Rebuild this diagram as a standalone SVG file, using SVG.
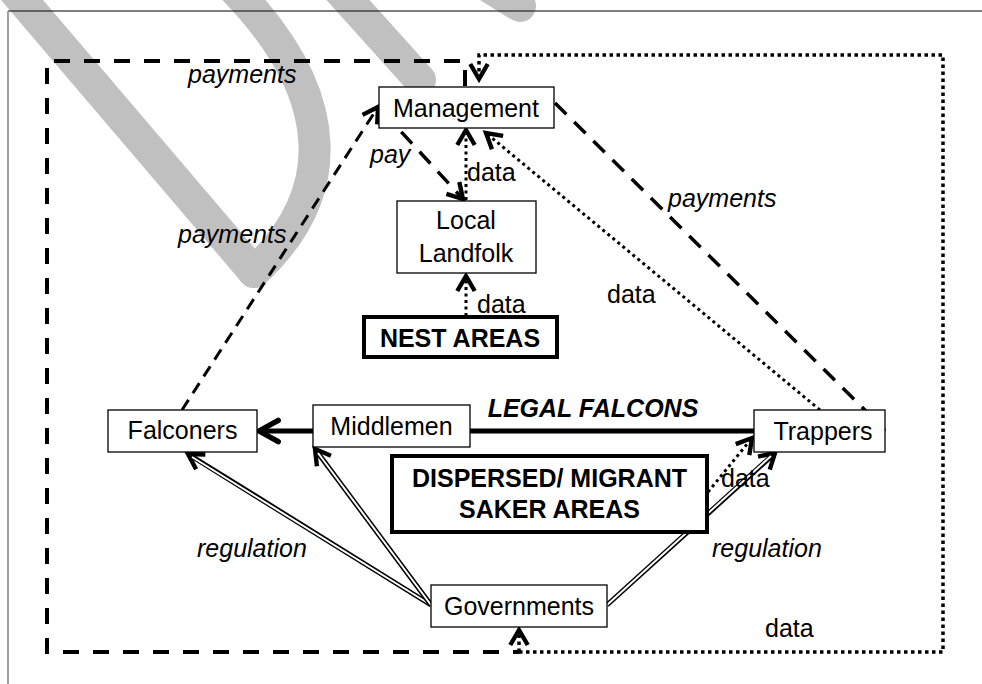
<svg xmlns="http://www.w3.org/2000/svg" width="982" height="684" viewBox="0 0 982 684">
<style>
text{font-family:"Liberation Sans",Arial,sans-serif;font-size:25px;fill:#000}
.it{font-style:italic}
.b{font-weight:bold}
.box{fill:#fff;stroke:#000;stroke-width:1.3}
.tbox{fill:#fff;stroke:#000;stroke-width:4}
.wm{fill:none;stroke:#c0c0c0;stroke-width:32;stroke-linecap:round}
.dash{fill:none;stroke:#000;stroke-width:4;stroke-dasharray:16 14}
.dash2{fill:none;stroke:#000;stroke-width:3.5;stroke-dasharray:16 11}
.dash3{fill:none;stroke:#000;stroke-width:3;stroke-dasharray:12 8}
.dot{fill:none;stroke:#000;stroke-width:3.5;stroke-dasharray:3.5 3.5}
.dot2{fill:none;stroke:#000;stroke-width:3;stroke-dasharray:3 3.5}
.dbl{fill:none;stroke:#000;stroke-width:5}
.dblw{fill:none;stroke:#fff;stroke-width:2}
</style>
<defs>
<marker id="ah" markerUnits="userSpaceOnUse" markerWidth="30" markerHeight="30" viewBox="-16 -12 20 24" refX="0" refY="0" orient="auto">
<path d="M-12,-7 L0,0 L-12,7" fill="none" stroke="#000" stroke-width="3.5" stroke-linejoin="miter"/>
</marker>
<marker id="ahL" markerUnits="userSpaceOnUse" markerWidth="30" markerHeight="30" viewBox="-22 -14 26 28" refX="0" refY="0" orient="auto">
<path d="M-18,-10 L0,0 L-18,10" fill="none" stroke="#000" stroke-width="5" stroke-linecap="round"/>
</marker>
</defs>
<g id="watermark">
<path class="wm" d="M5,-20 L254,272"/>
<path class="wm" d="M254,272 C332,200 347,100 225,-20"/>
<path class="wm" d="M330,-20 L420,80"/>
<path class="wm" d="M470,-25 L520,6"/>
</g>
<g id="frame">
<line x1="8" y1="11" x2="982" y2="11" stroke="#000" stroke-width="1"/>
<line x1="8" y1="11" x2="8" y2="684" stroke="#808080" stroke-width="1.5"/>
</g>
<g id="connectors">
<path class="dash" d="M465,86 V61 H47 V652 H519"/>
<path class="dot" d="M519,652 H943 V55 H479 V79" marker-end="url(#ah)"/>
<path class="dot" d="M519,652 V630" marker-end="url(#ah)"/>
<path class="dash3" d="M182,410 L378,107" marker-end="url(#ah)"/>
<path class="dash2" d="M383,112 L463,199" marker-end="url(#ah)"/>
<path class="dot2" d="M466,200 V130" marker-end="url(#ah)"/>
<path class="dot2" d="M820,410 L486,133" marker-end="url(#ah)"/>
<path class="dash2" d="M555,103 L883,428" marker-end="url(#ah)"/>
<path class="dot2" d="M466,316 V276" marker-end="url(#ah)"/>
<path class="dot2" d="M708,492 L752,438" marker-end="url(#ah)"/>
<path d="M754,431 L259,431" fill="none" stroke="#000" stroke-width="5" marker-end="url(#ahL)"/>
<path class="dbl" d="M431,605 L188,454" marker-end="url(#ah)"/>
<path class="dblw" d="M431,605 L192,457"/>
<path class="dbl" d="M431,605 L315,449" marker-end="url(#ah)"/>
<path class="dblw" d="M431,605 L318,453"/>
<path class="dbl" d="M607,605 L775,453" marker-end="url(#ah)"/>
<path class="dblw" d="M607,605 L771,456"/>
<text class="it" x="188" y="83">payments</text>
<text class="it" x="178" y="243">payments</text>
<text class="it" x="370" y="163">pay</text>
<text x="467" y="181">data</text>
<text x="477" y="313">data</text>
<text class="it" x="668" y="207">payments</text>
<text x="607" y="303">data</text>
<text class="b it" x="593" y="417" text-anchor="middle">LEGAL FALCONS</text>
<text x="721" y="487">data</text>
<text class="it" x="197" y="557">regulation</text>
<text class="it" x="712" y="557">regulation</text>
<text x="765" y="637">data</text>
</g>
<g id="management">
<rect class="box" x="379" y="87" width="175" height="41"/>
<text x="466" y="117" text-anchor="middle">Management</text>
</g>
<g id="local-landfolk">
<rect class="box" x="397" y="201" width="139" height="72"/>
<text x="466" y="229" text-anchor="middle">Local</text>
<text x="466" y="262" text-anchor="middle">Landfolk</text>
</g>
<g id="nest-areas">
<rect class="tbox" x="364" y="317" width="193" height="40"/>
<text class="b" x="460" y="347" text-anchor="middle">NEST AREAS</text>
</g>
<g id="falconers">
<rect class="box" x="108" y="410" width="149" height="42"/>
<text x="182.5" y="439" text-anchor="middle">Falconers</text>
</g>
<g id="middlemen">
<rect class="box" x="313" y="405" width="157" height="42"/>
<text x="391.5" y="435" text-anchor="middle">Middlemen</text>
</g>
<g id="trappers">
<rect class="box" x="754" y="410" width="131" height="42"/>
<text x="823" y="440" text-anchor="middle">Trappers</text>
</g>
<g id="dispersed">
<rect class="tbox" x="392" y="456" width="315" height="76"/>
<text class="b" x="549.5" y="487" text-anchor="middle">DISPERSED/ MIGRANT</text>
<text class="b" x="549.5" y="518" text-anchor="middle">SAKER AREAS</text>
</g>
<g id="governments">
<rect class="box" x="431" y="585" width="176" height="42"/>
<text x="519" y="615" text-anchor="middle">Governments</text>
</g>
</svg>
